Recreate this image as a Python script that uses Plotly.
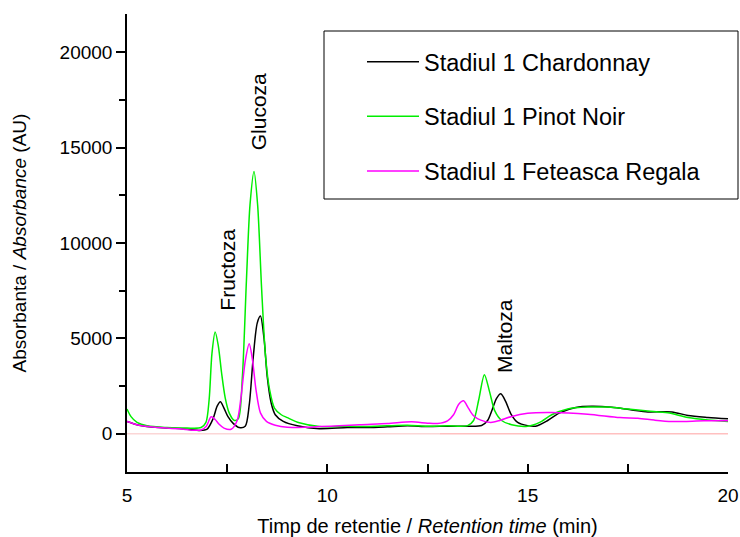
import plotly.graph_objects as go

# ---- data ----
t_chardonnay = [5.0, 5.3, 5.8, 6.3, 6.8, 7.0, 7.15, 7.25, 7.33, 7.42, 7.52, 7.65, 7.8, 7.95,
                8.05, 8.15, 8.25, 8.33, 8.42, 8.5, 8.6, 8.7, 8.9, 9.25, 9.8, 10.5, 11.0, 11.5,
                12.0, 12.5, 13.0, 13.5, 13.85, 14.0, 14.12, 14.22, 14.33, 14.45, 14.58, 14.75,
                15.0, 15.2, 15.5, 15.8, 16.2, 16.6, 17.1, 17.6, 18.0, 18.6, 19.0, 19.5, 20.0]
v_chardonnay = [650, 450, 330, 280, 180, 250, 800, 1450, 1680, 1350, 900, 550, 330, 400,
                1500, 4000, 5800, 6170, 5000, 3000, 1600, 1000, 650, 420, 270, 330, 330, 370,
                420, 380, 400, 400, 440, 700, 1300, 1850, 2100, 1700, 1050, 600,
                430, 400, 700, 1100, 1380, 1440, 1390, 1250, 1150, 1150, 960, 860, 790]

t_pinot = [5.0, 5.1, 5.25, 5.5, 6.0, 6.5, 6.85, 6.97, 7.05, 7.12, 7.2, 7.28, 7.36, 7.45,
           7.55, 7.68, 7.78, 7.88, 7.98, 8.07, 8.17, 8.26, 8.36, 8.46, 8.56, 8.68, 8.85,
           9.0, 9.3, 9.8, 10.5, 11.0, 11.5, 12.0, 12.5, 13.0, 13.5, 13.65, 13.78, 13.92,
           14.05, 14.18, 14.35, 14.6, 15.0, 15.3, 15.6, 16.0, 16.5, 17.0, 17.5, 18.0,
           18.5, 19.0, 19.5, 20.0]
v_pinot = [1300, 900, 600, 420, 330, 300, 330, 600, 1800, 4200, 5330, 4600, 3200, 1900,
           1100, 700, 800, 3000, 8000, 12000, 13750, 12000, 7600, 4000, 2300, 1350, 1000,
           850, 580, 385, 400, 380, 420, 450, 400, 420, 430, 700, 1800, 3100,
           2200, 1200, 700, 480, 400, 600, 1000, 1300, 1400, 1400, 1300, 1200,
           1100, 850, 720, 650]

t_feteasca = [5.0, 5.3, 5.8, 6.3, 6.85, 6.98, 7.1, 7.2, 7.3, 7.42, 7.6, 7.75, 7.85, 7.95,
              8.05, 8.13, 8.22, 8.33, 8.48, 8.7, 9.0, 9.5, 9.84, 10.3, 10.8, 11.5, 12.1,
              12.5, 12.75, 13.0, 13.15, 13.28, 13.4, 13.52, 13.65, 13.83, 14.08, 14.3,
              14.58, 15.0, 15.6, 16.5, 17.3, 17.75, 18.16, 18.6, 19.4, 20.0]
v_feteasca = [650, 450, 330, 260, 200, 400, 890, 750, 500, 300, 240, 700, 2000, 3800,
              4720, 3900, 2300, 1100, 650, 450, 340, 350, 380, 420, 480, 540, 630,
              560, 540, 680, 1000, 1550, 1730, 1350, 950, 720, 600, 700,
              900, 1080, 1120, 1030, 850, 820, 720, 650, 680, 680]

baseline_a_t = [5.0, 12.8]
baseline_b_t = [12.8, 20.0]
baseline_v = [0, 0]

names = ["Stadiul 1 Chardonnay", "Stadiul 1 Pinot Noir", "Stadiul 1 Feteasca Regala"]
colors = ["#000000", "#00ee00", "#ff00ff"]

peak_labels = ["Fructoza", "Glucoza", "Maltoza"]
peak_t = [7.52, 8.27, 14.42]
peak_v = [8600, 16850, 5150]

FONT = "Arial, Liberation Sans, sans-serif"

# pixel frame of the plot area
L, R, T, B = 127, 728, 14, 472
PW, PH = R - L, B - T

fig = go.Figure()

fig.add_trace(go.Scatter(x=baseline_a_t, y=baseline_v, mode="lines",
                         line=dict(color="#fbd6d6", width=1.5), showlegend=False, hoverinfo="skip"))
fig.add_trace(go.Scatter(x=baseline_b_t, y=baseline_v, mode="lines",
                         line=dict(color="#ffc0c0", width=1.5), showlegend=False, hoverinfo="skip"))

series = [(t_chardonnay, v_chardonnay), (t_pinot, v_pinot), (t_feteasca, v_feteasca)]
for i, ((tx, vy), nm, col) in enumerate(zip(series, names, colors)):
    fig.add_trace(go.Scatter(x=tx, y=vy, mode="lines", name=nm, legendgroup=f"g{i}",
                             line=dict(color=col, width=1.5, shape="spline", smoothing=0.8)))

for lab, tx, vy in zip(peak_labels, peak_t, peak_v):
    fig.add_annotation(x=tx, y=vy, text=lab, textangle=-90, showarrow=False,
                       font=dict(family=FONT, size=21, color="black"))

# legend frame
fig.add_shape(type="rect", xref="paper", yref="paper",
              x0=(324 - L) / PW, x1=(738 - L) / PW,
              y0=(B - 199) / PH, y1=(B - 31) / PH,
              line=dict(color="black", width=1), fillcolor="white", layer="below")

fig.update_layout(
    width=740, height=537,
    margin=dict(l=L, r=740 - R, t=T, b=537 - B, autoexpand=False),
    paper_bgcolor="white", plot_bgcolor="rgba(0,0,0,0)",
    font=dict(family=FONT, size=19, color="black"),
    showlegend=True,
    legend=dict(x=(362 - L) / PW, y=(B - 40) / PH, xanchor="left", yanchor="top",
                bgcolor="rgba(0,0,0,0)", borderwidth=0,
                font=dict(family=FONT, size=23.5, color="black"),
                traceorder="grouped", tracegroupgap=21, itemwidth=52),
    xaxis=dict(range=[5, 20], tickvals=[5, 10, 15, 20], ticktext=["5", "10", "15", "20"],
               showline=True, linecolor="black", linewidth=1.5, mirror=False,
               ticks="inside", ticklen=8, tickwidth=1.5, tickcolor="black",
               minor=dict(tickvals=[7.5, 12.5, 17.5], ticks="inside", ticklen=8,
                          tickwidth=1.5, tickcolor="black"),
               showgrid=False, zeroline=False, automargin=False,
               ticklabelstandoff=5,
               tickfont=dict(family=FONT, size=19),
               title=dict(text="Timp de retentie / <i>Retention time</i> (min)",
                          font=dict(family=FONT, size=20), standoff=14)),
    yaxis=dict(range=[-2000, 22000], tickvals=[0, 5000, 10000, 15000, 20000],
               ticktext=["0", "5000", "10000", "15000", "20000"],
               showline=True, linecolor="black", linewidth=1.5, mirror=False,
               ticks="outside", ticklen=9, tickwidth=1.5, tickcolor="black",
               minor=dict(tickvals=[2500, 7500, 12500, 17500], ticks="outside", ticklen=6,
                          tickwidth=1.5, tickcolor="black"),
               showgrid=False, zeroline=False, automargin=False,
               tickfont=dict(family=FONT, size=19),
               title=dict(text="Absorbanta / <i>Absorbance</i> (AU)",
                          font=dict(family=FONT, size=19), standoff=28)),
)

fig.write_html("out.html")
